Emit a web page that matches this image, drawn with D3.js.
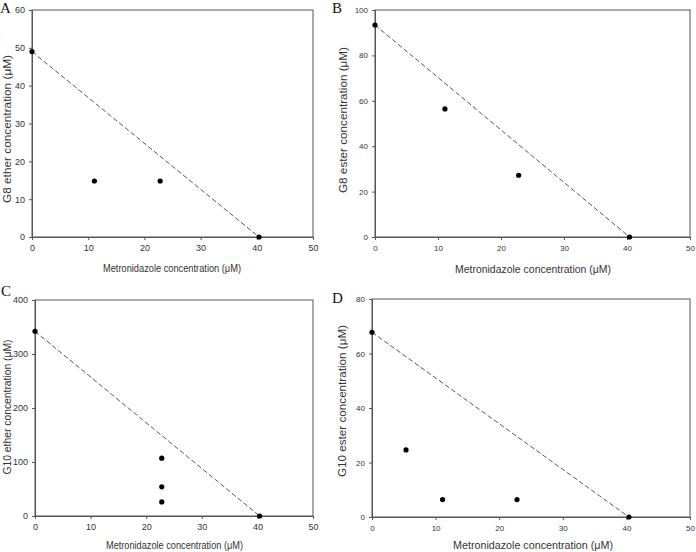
<!DOCTYPE html>
<html>
<head>
<meta charset="utf-8">
<script src="https://cdn.jsdelivr.net/npm/d3@7"></script>
<style>
  body { margin: 0; background: #fff; }
  svg { display: block; }
</style>
</head>
<body>
<svg id="chart" width="696" height="552"></svg>
<script>
// data
const panelLetters = ["A", "B", "C", "D"];
const yTitles = [
  "G8 ether concentration (\u03bcM)",
  "G8 ester concentration (\u03bcM)",
  "G10 ether concentration (\u03bcM)",
  "G10 ester concentration (\u03bcM)"
];
const xTitle = "Metronidazole concentration (\u03bcM)";
const xTicks = [0, 10, 20, 30, 40, 50];
const yMax = [60, 100, 400, 80];
const yStep = [10, 20, 100, 20];

const metroA = [0, 11.1, 22.8, 40.4];
const g8Ether = [49, 14.8, 14.8, 0];
const metroB = [0, 11.1, 22.8, 40.4];
const g8Ester = [93.4, 56.4, 27.2, 0];
const metroC = [0, 22.8, 22.8, 22.8, 40.4];
const g10Ether = [342, 107, 54, 26, 0];
const metroD = [0, 5.35, 11.1, 22.8, 40.4];
const g10Ester = [67.8, 24.6, 6.4, 6.4, 0];

const xs = [metroA, metroB, metroC, metroD];
const ys = [g8Ether, g8Ester, g10Ether, g10Ester];

// plot boxes and title placement in page pixels
const boxes = [
  { l: 32, r: 313, t: 10, b: 237, narrow: true,
    xt: 272, xc: 172, xl: 138, yb: 10.5, yc: 129, yl: 148, lx: 0, ly: 13 },
  { l: 375, r: 690, t: 10, b: 237, narrow: false,
    xt: 273, xc: 533, xl: 156, yb: 347, yc: 120, yl: 146, lx: 332, ly: 13 },
  { l: 35, r: 313, t: 300, b: 516, narrow: true,
    xt: 549, xc: 174.5, xl: 137, yb: 10.5, yc: 407, yl: 135, lx: 1, ly: 296 },
  { l: 372, r: 690, t: 299, b: 517, narrow: false,
    xt: 549, xc: 533, xl: 160, yb: 346, yc: 401, yl: 152, lx: 332, ly: 303 }
];

const svg = d3.select("#chart");
const axisColor = "#555";
const sans = "Liberation Sans, Arial, sans-serif";
const narrowSans = "Liberation Sans Narrow, Arial Narrow, Liberation Sans, sans-serif";

boxes.forEach((bx, i) => {
  const x = d3.scaleLinear().domain([0, 50]).range([bx.l, bx.r]);
  const y = d3.scaleLinear().domain([0, yMax[i]]).range([bx.b, bx.t]);
  const g = svg.append("g");
  const font = bx.narrow ? narrowSans : sans;

  // frame
  g.append("rect")
    .attr("x", bx.l).attr("y", bx.t)
    .attr("width", bx.r - bx.l).attr("height", bx.b - bx.t)
    .attr("fill", "none").attr("stroke", axisColor).attr("stroke-width", 1);

  const xa = g.append("g")
    .attr("transform", "translate(0," + bx.b + ")")
    .call(d3.axisBottom(x).tickValues(xTicks).tickSize(3).tickPadding(5));
  const ya = g.append("g")
    .attr("transform", "translate(" + bx.l + ",0)")
    .call(d3.axisLeft(y).ticks(yMax[i] / yStep[i]).tickSize(3).tickPadding(4));

  [xa, ya].forEach(a => {
    a.select(".domain").attr("stroke", axisColor);
    a.selectAll(".tick line").attr("stroke", axisColor);
    a.selectAll("text")
      .attr("font-family", font)
      .attr("font-size", bx.narrow ? 9 : 8)
      .attr("fill", "#333");
  });

  // dashed line from first to last point
  const n = xs[i].length;
  g.append("line")
    .attr("x1", x(xs[i][0])).attr("y1", y(ys[i][0]))
    .attr("x2", x(xs[i][n - 1])).attr("y2", y(ys[i][n - 1]))
    .attr("stroke", "#444").attr("stroke-width", 0.9)
    .attr("stroke-dasharray", "5,2.5");

  g.selectAll("circle")
    .data(xs[i].map((v, k) => [v, ys[i][k]]))
    .enter()
    .append("circle")
    .attr("cx", d => x(d[0]))
    .attr("cy", d => y(d[1]))
    .attr("r", 2.6)
    .attr("fill", "#000");

  // titles
  g.append("text")
    .attr("x", bx.xc).attr("y", bx.xt)
    .attr("text-anchor", "middle")
    .attr("font-family", font)
    .attr("font-size", bx.narrow ? 11.5 : 10.5).attr("fill", "#333")
    .attr("textLength", bx.xl).attr("lengthAdjust", "spacingAndGlyphs")
    .text(xTitle);

  g.append("text")
    .attr("transform", "translate(" + bx.yb + "," + bx.yc + ") rotate(-90)")
    .attr("text-anchor", "middle")
    .attr("font-family", font)
    .attr("font-size", bx.narrow ? 11 : 10.5).attr("fill", "#333")
    .attr("textLength", bx.yl).attr("lengthAdjust", "spacingAndGlyphs")
    .text(yTitles[i]);

  g.append("text")
    .attr("x", bx.lx).attr("y", bx.ly)
    .attr("font-family", "Liberation Serif, Times New Roman, serif")
    .attr("font-size", 15).attr("fill", "#111")
    .text(panelLetters[i]);
});
</script>
</body>
</html>
